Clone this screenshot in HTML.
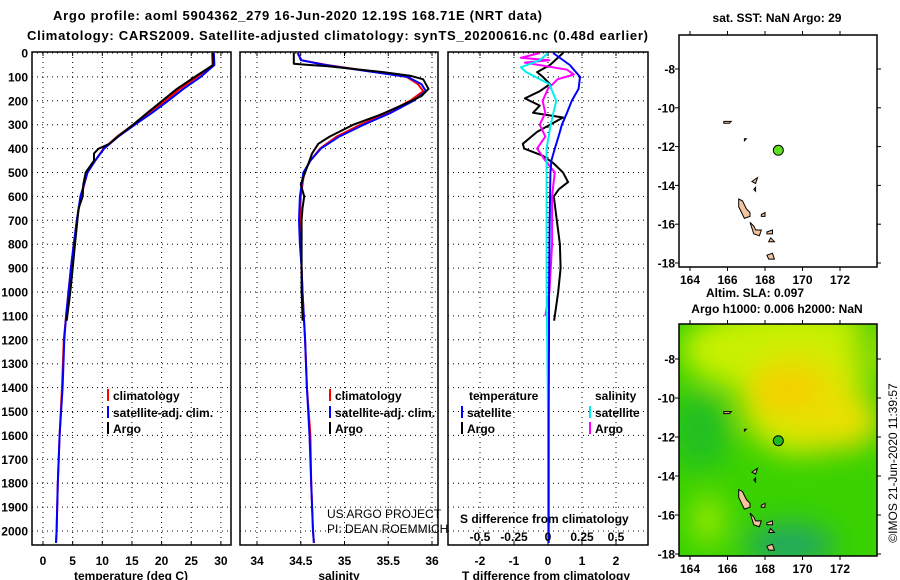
<!DOCTYPE html>
<html><head><meta charset="utf-8"><style>
body{margin:0;background:#fff;width:900px;height:580px;overflow:hidden}
svg{display:block;font-family:"Liberation Sans",sans-serif;font-weight:bold}
</style></head><body>
<svg id="c" width="900" height="580" viewBox="0 0 900 580"></svg>
<script>
// ---- data ----
const tDepth=[0,50,100,150,200,250,300,350,400,450,500,600,700,800,900,1000,1100,1200,1400,1600,1800,2000,2050];
const tClim=[28.5,28.6,26.0,23.1,20.6,18.0,15.2,12.5,10.2,8.8,7.5,6.4,5.7,5.2,4.7,4.3,3.9,3.5,3.2,2.8,2.5,2.3,2.2];
const tSat=[28.8,28.9,26.6,23.7,21.1,18.4,15.5,12.7,10.3,8.8,7.5,6.3,5.7,5.2,4.7,4.3,3.9,3.6,3.3,2.8,2.5,2.3,2.2];
const aDepth=[0,50,100,150,200,250,300,350,380,400,420,450,500,550,600,650,700,800,900,1000,1100,1120];
const tArgo=[28.7,28.7,25.6,22.6,20.1,17.6,15.2,12.6,11.2,9.4,8.6,8.6,7.2,6.8,6.7,6.0,5.8,5.4,5.0,4.6,4.1,4.0];
const sDepth=[0,30,50,75,100,130,160,200,250,300,350,400,450,500,600,700,800,900,1000,1200,1400,1600,1800,2000,2050];
const sClim=[34.46,34.51,34.8,35.26,35.71,35.84,35.9,35.75,35.49,35.18,34.91,34.72,34.61,34.54,34.50,34.49,34.50,34.51,34.52,34.55,34.57,34.61,34.62,34.64,34.65];
const sSat=[34.47,34.5,34.78,35.24,35.72,35.88,35.93,35.79,35.53,35.22,34.94,34.73,34.61,34.53,34.49,34.48,34.49,34.51,34.52,34.55,34.57,34.60,34.62,34.64,34.65];
const saDepth=[0,45,50,55,80,95,110,150,180,210,260,300,350,380,420,450,500,550,600,650,700,800,900,1000,1100,1120];
const sArgo=[34.42,34.42,34.6,34.8,35.44,35.75,35.9,35.96,35.88,35.71,35.4,35.1,34.83,34.7,34.63,34.6,34.55,34.5,34.54,34.52,34.51,34.51,34.51,34.51,34.52,34.52];
const dDepth=[0,50,80,100,130,160,190,220,250,270,300,330,380,400,430,460,500,540,570,600,700,800,900,1000,1100,1120];
const dTArgo=[0.44,0.06,-0.32,-0.15,0.06,-0.24,-0.68,-0.24,-0.44,0.44,0.06,-0.32,-0.74,-0.7,-0.15,0.15,0.44,0.59,0.32,0.17,0.26,0.35,0.37,0.3,0.2,0.18];
const dsDepth=[0,50,100,150,200,250,300,350,400,450,500,700,1000,1200,1500,1800,2050];
const dTSat=[0.15,0.64,0.94,0.9,0.7,0.56,0.41,0.31,0.2,0.1,0.07,0.05,0.03,0.03,0.02,0.02,0.02];
const mDepth=[0,20,30,40,70,90,110,150,200,250,300,350,400,450,500,550,600,800,1000,1100];
const dSArgo=[-0.06,-0.2,0.01,-0.17,0.14,0.19,0.07,0.0,-0.04,-0.02,-0.06,-0.02,-0.08,-0.02,0.05,0.04,0.03,0.03,0.01,-0.02];
const cDepth=[0,30,60,80,130,200,300,400,500,700,1000,1500,2050];
const dSSat=[0.0,-0.06,-0.2,-0.16,0.01,0.06,0.02,-0.01,-0.01,-0.01,-0.01,0.0,0.0];
const depthTicks=[0,100,200,300,400,500,600,700,800,900,1000,1100,1200,1300,1400,1500,1600,1700,1800,1900,2000];
const tTicks=[0,5,10,15,20,25,30];
const sTicks=[34,34.5,35,35.5,36];
const dTTicks=[-2,-1,0,1,2];
const dSTicks=["-0.5","-0.25","0","0.25","0.5"];
const lonTicks=[164,166,168,170,172];
const latTicks=[-8,-10,-12,-14,-16,-18];
const floatLon=168.71, floatLat=-12.19;

// ---- scales ----
const Y0=52,Y1=545;
const yD=d=>53+d*0.239;
const xT=t=>43+t*5.93;
const xS=s=>257+(s-34)*87.5;
const xDT=v=>548+v*34;
const xDS=v=>548+v*136;
const NS="http://www.w3.org/2000/svg";
const svg=document.getElementById('c');
function el(tag,attrs,parent,text){const e=document.createElementNS(NS,tag);for(const k in attrs)e.setAttribute(k,attrs[k]);if(text!==undefined)e.textContent=text;(parent||svg).appendChild(e);return e;}
function txt(x,y,s,anchor,size,parent,extra){const t=el('text',Object.assign({x:x,y:y,'text-anchor':anchor||'start','font-size':size||12},extra||{}),parent,s);return t;}

// titles
let t1=txt(53,20,"Argo profile: aoml 5904362_279 16-Jun-2020 12.19S 168.71E (NRT data)","start",13,null,{textLength:489});

let t2=txt(27,40,"Climatology: CARS2009. Satellite-adjusted climatology: synTS_20200616.nc (0.48d earlier)","start",13,null,{textLength:621});


// depth labels
const dl=el('g',{});

depthTicks.forEach(d=>txt(28,yD(d)+4.5,String(d),'end',12,dl));

function panel(name,x0,x1,xticks,xf,labels){
  const g=el('g',{});
  
  depthTicks.forEach(d=>el('line',{x1:x0,x2:x1,y1:yD(d),y2:yD(d),stroke:'#000','stroke-dasharray':'1,4','stroke-width':1},g));
  xticks.forEach(v=>{el('line',{x1:xf(v),x2:xf(v),y1:Y0,y2:Y1,stroke:'#000','stroke-dasharray':'1,4','stroke-width':1},g);
    el('line',{x1:xf(v),x2:xf(v),y1:Y0,y2:Y0+4,stroke:'#000'},g);
    el('line',{x1:xf(v),x2:xf(v),y1:Y1,y2:Y1-4,stroke:'#000'},g);});
  if(labels){xticks.forEach((v,i)=>txt(xf(v),565,labels[i],'middle',12,g));}
  return g;
}
function frame(name,x0,x1){const r=el('rect',{x:x0,y:Y0,width:x1-x0,height:Y1-Y0,fill:'none',stroke:'#000','stroke-width':1.5});}
function line(depths,vals,xf,color,name,w){const p=depths.map((d,i)=>(i?'L':'M')+xf(vals[i]).toFixed(1)+','+yD(d).toFixed(1)).join('');
  const e=el('path',{d:p,fill:'none',stroke:color,'stroke-width':w||2,'stroke-linejoin':'round'});return e;}

// panel 1
panel('temperature-panel',32,231,tTicks,xT,tTicks.map(String));
line(tDepth,tClim,xT,'#f00','temp-climatology-line');
line(tDepth,tSat,xT,'#00f','temp-satellite-line');
line(aDepth,tArgo,xT,'#000','temp-argo-line');
frame('temperature-frame',32,231);
let at=txt(131,580,"temperature (deg C)",'middle',12);

// panel 2
panel('salinity-panel',240,438,sTicks,xS,sTicks.map(String));
line(sDepth,sClim,xS,'#f00','sal-climatology-line');
line(sDepth,sSat,xS,'#00f','sal-satellite-line');
line(saDepth,sArgo,xS,'#000','sal-argo-line');
frame('salinity-frame',240,438);
let as=txt(339,580,"salinity",'middle',12);

// panel 3
panel('difference-panel',448,648,dTTicks,xDT,dTTicks.map(String));
line(dDepth,dTArgo,xDT,'#000','dt-argo-line');
line(mDepth,dSArgo,xDS,'#f0f','ds-argo-line');
line(cDepth,dSSat,xDS,'#0ee','ds-satellite-line');
line(dsDepth,dTSat,xDT,'#00f','dt-satellite-line');
frame('difference-frame',448,648);
let ad=txt(546,580,"T difference from climatology",'middle',12);
let sd=txt(460,523,"S difference from climatology",'start',12);
const sdl=el('g',{});
dSTicks.forEach(s=>txt(xDS(parseFloat(s)),541,s,'middle',12,sdl));

// legends
function leg(x,y,color,label,name){const g=el('g',{});
  el('line',{x1:x,x2:x,y1:y-11,y2:y+1,stroke:color,'stroke-width':2},g);txt(x+5,y,label,'start',12,g);}
leg(108,400,'#f00','climatology','legend-climatology');
leg(108,417,'#00f','satellite-adj. clim.','legend-satellite-adj');
leg(108,433,'#000','Argo','legend-argo');
leg(330,400,'#f00','climatology','legend2-climatology');
leg(330,417,'#00f','satellite-adj. clim.','legend2-satellite-adj');
leg(330,433,'#000','Argo','legend2-argo');
let lt=txt(469,400,'temperature','start',12);
let ls=txt(595,400,'salinity','start',12);
leg(462,417,'#00f','satellite','legend-t-satellite');
leg(462,433,'#000','Argo','legend-t-argo');
leg(590,417,'#0ee','satellite','legend-s-satellite');
leg(590,433,'#f0f','Argo','legend-s-argo');
let c1=txt(327,518,'US ARGO PROJECT','start',12,null,{'font-weight':'normal'});
let c2=txt(327,533,'PI: DEAN ROEMMICH','start',12,null,{'font-weight':'normal'});

// ---- maps ----
const islands=[
 [[166.6,-14.7],[166.8,-14.8],[167.0,-15.2],[167.2,-15.4],[167.2,-15.6],[166.9,-15.7],[166.8,-15.5],[166.6,-15.1]],
 [[167.2,-15.9],[167.4,-16.1],[167.5,-16.3],[167.8,-16.3],[167.7,-16.6],[167.4,-16.5],[167.3,-16.2]],
 [[168.1,-16.4],[168.4,-16.3],[168.4,-16.5],[168.1,-16.5]],
 [[168.1,-17.6],[168.4,-17.5],[168.5,-17.8],[168.2,-17.8]],
 [[167.8,-15.5],[168.0,-15.4],[168.0,-15.6],[167.8,-15.6]],
 [[167.4,-14.2],[167.5,-14.1],[167.5,-14.3]],
 [[165.8,-10.7],[166.2,-10.7],[166.1,-10.8],[165.8,-10.8]],
 [[166.9,-11.6],[167.0,-11.6],[166.9,-11.7]],
 [[167.3,-13.8],[167.6,-13.6],[167.5,-13.9]],
 [[168.3,-16.7],[168.5,-16.9],[168.2,-16.9]],
];
function map(name,top,bot,latTop,latBot,colored){
  const g=el('g',{});
  const x0=679,x1=877;
  const mx=lon=>690+(lon-164)*18.75;
  const my=lat=>latTop+(-8-lat)*((latBot-latTop)/10);
  if(colored){
    const defs=el('defs',{},g);
    const f=el('filter',{id:'bl',x:'-50%',y:'-50%',width:'200%',height:'200%'},defs);el('feGaussianBlur',{stdDeviation:14},f);
    const cp=el('clipPath',{id:'mc'},defs);el('rect',{x:x0,y:top,width:x1-x0,height:bot-top},cp);
    const fg=el('g',{'clip-path':'url(#mc)'},g);
    el('rect',{x:x0,y:top,width:x1-x0,height:bot-top,fill:'#3ad200'},fg);
    const bg=el('g',{filter:'url(#bl)'},fg);
    el('ellipse',{cx:790,cy:350,rx:110,ry:45,fill:'#c8f000'},bg);
    el('ellipse',{cx:800,cy:400,rx:60,ry:55,fill:'#d8e800'},bg);
    el('ellipse',{cx:790,cy:390,rx:40,ry:25,fill:'#f4d000'},bg);
    el('ellipse',{cx:840,cy:420,rx:40,ry:30,fill:'#e8e000'},bg);
    el('ellipse',{cx:700,cy:430,rx:30,ry:40,fill:'#22c020'},bg);
    el('ellipse',{cx:790,cy:545,rx:45,ry:22,fill:'#20a860'},bg);
    el('ellipse',{cx:708,cy:520,rx:14,ry:25,fill:'#a8ec00'},bg);
    el('ellipse',{cx:870,cy:340,rx:12,ry:40,fill:'#30cc00'},bg);
  }
  islands.forEach(p=>{const e=el('polygon',{points:p.map(q=>mx(q[0]).toFixed(1)+','+my(q[1]).toFixed(1)).join(' '),fill:'#f5c49e',stroke:'#000','stroke-width':1},g);
    });
  const dot=el('circle',{cx:mx(floatLon),cy:my(floatLat),r:5,fill:colored?'#20b820':'#60e020',stroke:'#000','stroke-width':1},g);
  
  el('rect',{x:x0,y:top,width:x1-x0,height:bot-top,fill:'none',stroke:'#000','stroke-width':1.5},g);
  lonTicks.forEach(l=>{el('line',{x1:mx(l),x2:mx(l),y1:top,y2:top-4,stroke:'#000'},g);el('line',{x1:mx(l),x2:mx(l),y1:bot,y2:bot+4,stroke:'#000'},g);
    txt(mx(l),bot+17,String(l),'middle',12,g);});
  latTicks.forEach(l=>{el('line',{x1:x1,x2:x1+4,y1:my(l),y2:my(l),stroke:'#000'},g);el('line',{x1:x0,x2:x0-4,y1:my(l),y2:my(l),stroke:'#000'},g);
    txt(675,my(l)+4.5,String(l),'end',12,g);});
}
map('sst-map',35,267,69,263,false);
map('sla-map',324,556,359,554,true);
let m1=txt(777,22,'sat. SST: NaN Argo: 29','middle',12);
let m2=txt(755,297,'Altim. SLA: 0.097','middle',12);
let m3=txt(777,313,'Argo h1000: 0.006 h2000: NaN','middle',12);
let cr=txt(0,0,'©IMOS 21-Jun-2020 11:39:57','middle',12,null,{transform:'translate(897,463) rotate(-90)','font-weight':'normal'});

</script>
</body></html>
